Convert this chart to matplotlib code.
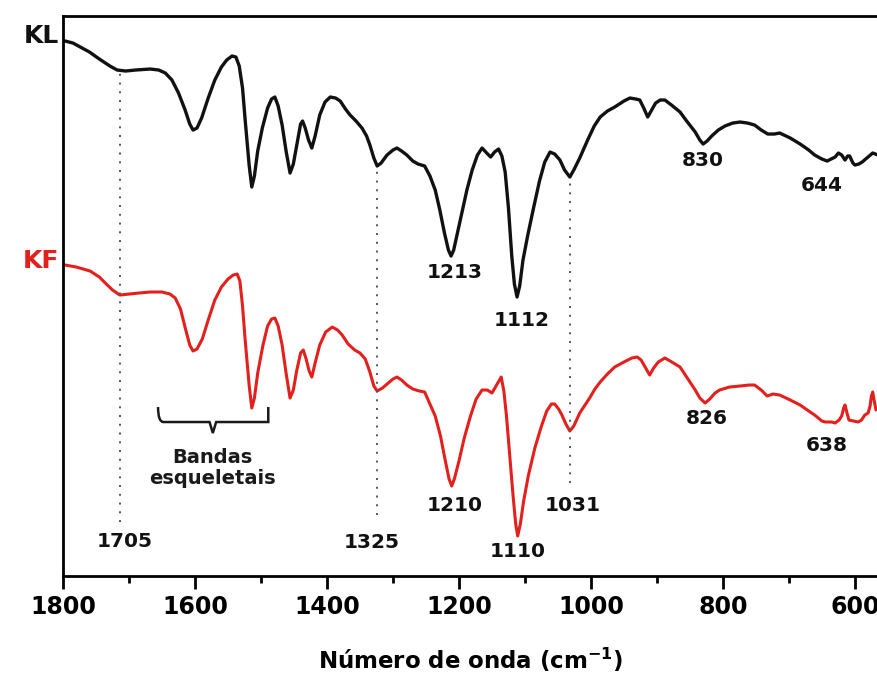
import numpy as np
import matplotlib
matplotlib.use('Agg')
import matplotlib.pyplot as plt
from matplotlib.path import Path
from matplotlib.patches import PathPatch
from matplotlib.ticker import MultipleLocator

# FTIR spectra (wavenumber in cm-1, transmittance in a.u.)
kl_wn = [1797, 1785, 1774, 1760, 1745, 1729, 1718, 1705, 1690, 1668, 1655, 1645, 1635, 1625, 1615,
         1608, 1603, 1597, 1590, 1580, 1570, 1560, 1552, 1544, 1538, 1533, 1528, 1524, 1518, 1514,
         1510, 1505, 1498, 1490, 1484, 1479, 1474, 1468, 1462, 1456, 1451, 1446, 1440, 1437, 1433,
         1428, 1423, 1418, 1411, 1403, 1395, 1387, 1380, 1372, 1365, 1356, 1347, 1340, 1335, 1329,
         1324, 1318, 1309, 1300, 1294, 1287, 1279, 1270, 1262, 1252, 1244, 1236, 1229, 1222, 1216,
         1212, 1208, 1203, 1196, 1188, 1180, 1172, 1165, 1158, 1152, 1146, 1140, 1135, 1130, 1125,
         1120, 1116, 1112, 1108, 1103, 1096, 1088, 1078, 1070, 1062, 1055, 1047, 1040, 1032, 1026,
         1017, 1005, 995, 986, 975, 964, 950, 941, 932, 926, 920, 914, 908, 902, 895,
         888, 878, 865, 855, 842, 835, 830, 824, 817, 807, 797, 785, 774, 763, 752,
         742, 732, 722, 714, 698, 683, 670, 661, 650, 642, 636, 630, 625, 620, 615,
         611, 608, 603, 600, 594, 589, 580, 573, 565]
kl_t = [535, 533, 529, 524, 517, 510, 506, 505, 506, 507, 506, 503, 496, 483, 466,
        452, 446, 448, 458, 478, 496, 509, 516, 520, 519, 510, 488, 456, 411, 389,
        400, 425, 448, 468, 477, 479, 470, 451, 425, 403, 412, 430, 452, 455, 448,
        436, 428, 440, 461, 474, 479, 478, 475, 467, 461, 455, 448, 440, 431, 418,
        410, 413, 421, 426, 428, 425, 421, 415, 412, 410, 400, 386, 366, 343, 326,
        320, 326, 341, 362, 386, 406, 421, 428, 423, 419, 424, 427, 420, 404, 368,
        320, 292, 279, 290, 316, 340, 365, 395, 414, 424, 422, 416, 406, 399, 406,
        418, 436, 450, 459, 465, 469, 475, 478, 477, 476, 468, 459, 466, 473, 476,
        476, 471, 464, 455, 444, 436, 432, 435, 440, 446, 450, 453, 454, 453, 451,
        446, 442, 442, 443, 438, 432, 426, 421, 417, 415, 417, 419, 423, 421, 416,
        420, 420, 413, 411, 412, 414, 419, 423, 421]

kf_wn = [1797, 1780, 1759, 1745, 1736, 1725, 1714, 1700, 1685, 1668, 1650, 1638, 1630, 1622, 1614,
         1608, 1603, 1597, 1589, 1580, 1570, 1560, 1550, 1542, 1536, 1532, 1528, 1524, 1518, 1514,
         1510, 1505, 1497, 1490, 1484, 1479, 1474, 1468, 1462, 1456, 1451, 1446, 1440, 1436, 1432,
         1427, 1423, 1418, 1411, 1402, 1392, 1384, 1377, 1368, 1358, 1350, 1342, 1335, 1329, 1324,
         1316, 1309, 1300, 1294, 1287, 1279, 1270, 1260, 1252, 1244, 1236, 1228, 1220, 1215, 1211,
         1207, 1200, 1192, 1183, 1174, 1165, 1157, 1150, 1143, 1136, 1132, 1128, 1123, 1118, 1114,
         1111, 1107, 1102, 1095, 1085, 1075, 1067, 1060, 1055, 1049, 1044, 1038, 1032, 1026, 1017,
         1008, 1002, 994, 986, 975, 964, 950, 938, 930, 924, 918, 911, 905, 898, 888,
         880, 865, 855, 842, 835, 827, 820, 812, 805, 790, 774, 760, 752, 742, 733,
         724, 714, 698, 683, 670, 661, 650, 645, 635, 630, 624, 620, 617, 615, 612,
         609, 602, 595, 590, 585, 580, 577, 575, 573, 571, 568, 565]
kf_t = [311, 309, 305, 299, 293, 286, 281, 282, 283, 284, 284, 282, 278, 267, 246,
        231, 225, 227, 237, 256, 276, 289, 297, 301, 302, 295, 270, 236, 191, 168,
        178, 203, 231, 250, 257, 258, 250, 231, 203, 178, 186, 205, 223, 226, 218,
        205, 199, 213, 231, 244, 249, 246, 241, 232, 226, 223, 217, 204, 190, 185,
        188, 192, 197, 199, 196, 191, 187, 185, 184, 172, 160, 140, 113, 97, 90,
        97, 115, 138, 159, 177, 186, 186, 183, 191, 199, 185, 160, 120, 80, 52,
        40, 52, 75, 100, 128, 150, 165, 172, 172, 167, 161, 152, 145, 150, 163,
        172, 178, 187, 194, 202, 209, 214, 218, 219, 216, 209, 201, 208, 214, 218,
        215, 209, 199, 186, 178, 173, 177, 183, 186, 189, 190, 191, 191, 186, 180,
        182, 181, 176, 171, 165, 161, 155, 154, 154, 153, 156, 160, 168, 171, 163,
        156, 155, 154, 156, 161, 163, 170, 180, 184, 176, 166, 168]

# band positions marked on the spectra
kl_bands = ['1213', '1112', '830', '644']
kl_band_x = [1206, 1105, 830, 650]
kl_band_y = [304, 256, 416, 391]
kf_bands = ['1210', '1110', '1031', '826', '638', '1705', '1325']
kf_band_x = [1206, 1111, 1027, 824, 642, 1706, 1332]
kf_band_y = [71, 25, 71, 158, 131, 35, 34]

# dotted guide lines: wavenumber, top, bottom
guide_x = [1714, 1324, 1032]
guide_top = [506, 410, 399]
guide_bot = [54, 61, 93]

black = '#111111'
red = '#e3201c'

fig = plt.figure(figsize=(8.78, 6.73), dpi=100)
ax = fig.add_axes([0.0718, 0.1441, 0.9282, 0.8321])

ax.plot(kl_wn, kl_t, color=black, lw=2.4, solid_joinstyle='round')
ax.plot(kf_wn, kf_t, color=red, lw=2.2, solid_joinstyle='round')

for x, y0, y1 in zip(guide_x, guide_top, guide_bot):
    ax.plot([x, x], [y1, y0], color='#555555', lw=1.4, ls=(0, (1, 3.5)))

for s, x, y in zip(kl_bands, kl_band_x, kl_band_y):
    ax.text(x, y, s, ha='center', va='center', fontsize=14.5, fontweight='bold', color=black)
for s, x, y in zip(kf_bands, kf_band_x, kf_band_y):
    ax.text(x, y, s, ha='center', va='center', fontsize=14.5, fontweight='bold', color=black)

# curly brace under the skeletal bands
x0, x1, xm = 1656, 1489, 1573
yt, yb, ytip = 169, 154, 143
verts = [(x0, yt), (x0, yb), (x0 - 8, yb), (x0 - 20, yb),
         (xm + 5, yb), (xm + 5, yb), (xm, ytip),
         (xm - 5, yb), (xm - 5, yb), (x1 + 20, yb),
         (x1 + 8, yb), (x1, yb), (x1, yt)]
codes = [Path.MOVETO, Path.CURVE3, Path.CURVE3, Path.LINETO,
         Path.LINETO, Path.CURVE3, Path.CURVE3,
         Path.CURVE3, Path.CURVE3, Path.LINETO,
         Path.CURVE3, Path.CURVE3, Path.LINETO]
ax.add_patch(PathPatch(Path(verts, codes), fill=False, lw=1.8, color='#1a1a1a'))
ax.text(xm, 108, 'Bandas\nesqueletais', ha='center', va='center', fontsize=14,
        fontweight='bold', color='#1a1a1a', linespacing=1.15)

ax.text(1806, 540, 'KL', ha='right', va='center', fontsize=18, fontweight='bold',
        color=black, clip_on=False)
ax.text(1806, 315, 'KF', ha='right', va='center', fontsize=18, fontweight='bold',
        color=red, clip_on=False)

ax.set_xlim(1800, 565)
ax.set_ylim(0, 560)
ax.xaxis.set_major_locator(MultipleLocator(200))
ax.xaxis.set_minor_locator(MultipleLocator(100))
ax.set_yticks([])
ax.tick_params(axis='x', which='major', direction='out', length=9, width=2, pad=5,
               labelsize=17)
ax.tick_params(axis='x', which='minor', direction='out', length=5, width=2)
for lab in ax.get_xticklabels():
    lab.set_fontweight('bold')
for side in ['left', 'bottom', 'top']:
    ax.spines[side].set_linewidth(2)
ax.spines['right'].set_visible(False)

ax.set_xlabel('Número de onda (cm$^{\\mathbf{-1}}$)', fontsize=16.5, fontweight='bold', labelpad=19)

fig.savefig('out.png', dpi=100)
